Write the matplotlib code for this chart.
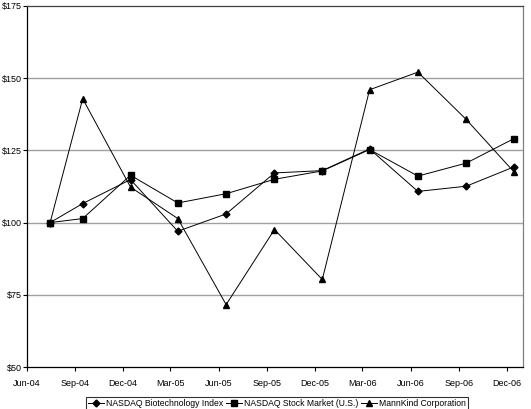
import pandas as pd
import matplotlib
matplotlib.use('Agg')
from matplotlib import pyplot as plt

# Quarter points (mid-month dates)
dates = ["2004-07-15", "2004-09-15", "2004-12-15", "2005-03-15", "2005-06-15", "2005-09-15",
         "2005-12-15", "2006-03-15", "2006-06-15", "2006-09-15", "2006-12-15"]
biotech = [100, 106.6, 114.9, 97.0, 103.0, 117.2, 118.0, 125.5, 110.8, 112.6, 119.3]
nasdaq = [100, 101.4, 116.4, 106.8, 110.0, 115.0, 117.9, 125.3, 116.1, 120.6, 129.1]
mannkind = [100, 142.9, 112.3, 101.4, 71.6, 97.6, 80.3, 146.0, 152.1, 135.7, 117.5]

tick_dates = ["2004-06-01", "2004-09-01", "2004-12-01", "2005-03-01", "2005-06-01", "2005-09-01",
              "2005-12-01", "2006-03-01", "2006-06-01", "2006-09-01", "2006-12-01"]
tick_labels = ["Jun-04", "Sep-04", "Dec-04", "Mar-05", "Jun-05", "Sep-05",
               "Dec-05", "Mar-06", "Jun-06", "Sep-06", "Dec-06"]
y_ticks = [50, 75, 100, 125, 150, 175]

plt.rcParams['font.family'] = ['Liberation Sans', 'DejaVu Sans']

x = pd.to_datetime(dates)

fig = plt.figure(figsize=(5.31, 4.09), dpi=100)
ax = fig.add_axes([27 / 531, 1 - 367 / 409, (523 - 27) / 531, (367 - 6) / 409])

# Gridlines
for v in y_ticks[1:-1]:
    ax.axhline(v, color="#a0a0a0", lw=1.0, zorder=1)

ax.plot(x, biotech, color="black", lw=0.7, marker="D", ms=3.5, label="NASDAQ Biotechnology Index", zorder=3)
ax.plot(x, nasdaq, color="black", lw=0.7, marker="s", ms=4.5, label="NASDAQ Stock Market (U.S.)", zorder=3)
ax.plot(x, mannkind, color="black", lw=0.7, marker="^", ms=4.5, label="MannKind Corporation", zorder=3)

ax.set_xlim(pd.Timestamp("2004-06-01"), pd.Timestamp("2007-01-01"))
ax.set_ylim(50, 175)

ax.set_xticks(pd.to_datetime(tick_dates))
ax.set_xticklabels(tick_labels, fontsize=6.5)
ax.set_yticks(y_ticks)
ax.set_yticklabels(["$%d" % v for v in y_ticks], fontsize=6.5)
ax.tick_params(axis="both", direction="out", length=3, width=0.8)
ax.tick_params(axis="x", pad=6)
ax.tick_params(axis="y", pad=0.5)

ax.spines["left"].set_color("black")
ax.spines["bottom"].set_color("black")
ax.spines["top"].set_color("#404040")
ax.spines["right"].set_color("#808080")
for s in ax.spines.values():
    s.set_linewidth(0.9)

leg = fig.legend(loc="lower center", bbox_to_anchor=(277 / 531, -2 / 409), ncol=3, fontsize=6.2,
                 frameon=True, fancybox=False, edgecolor="black", borderpad=0.3,
                 handlelength=1.8, handletextpad=0.2, columnspacing=0.4, borderaxespad=0)
leg.get_frame().set_linewidth(0.8)

fig.savefig("out.png", dpi=100)
